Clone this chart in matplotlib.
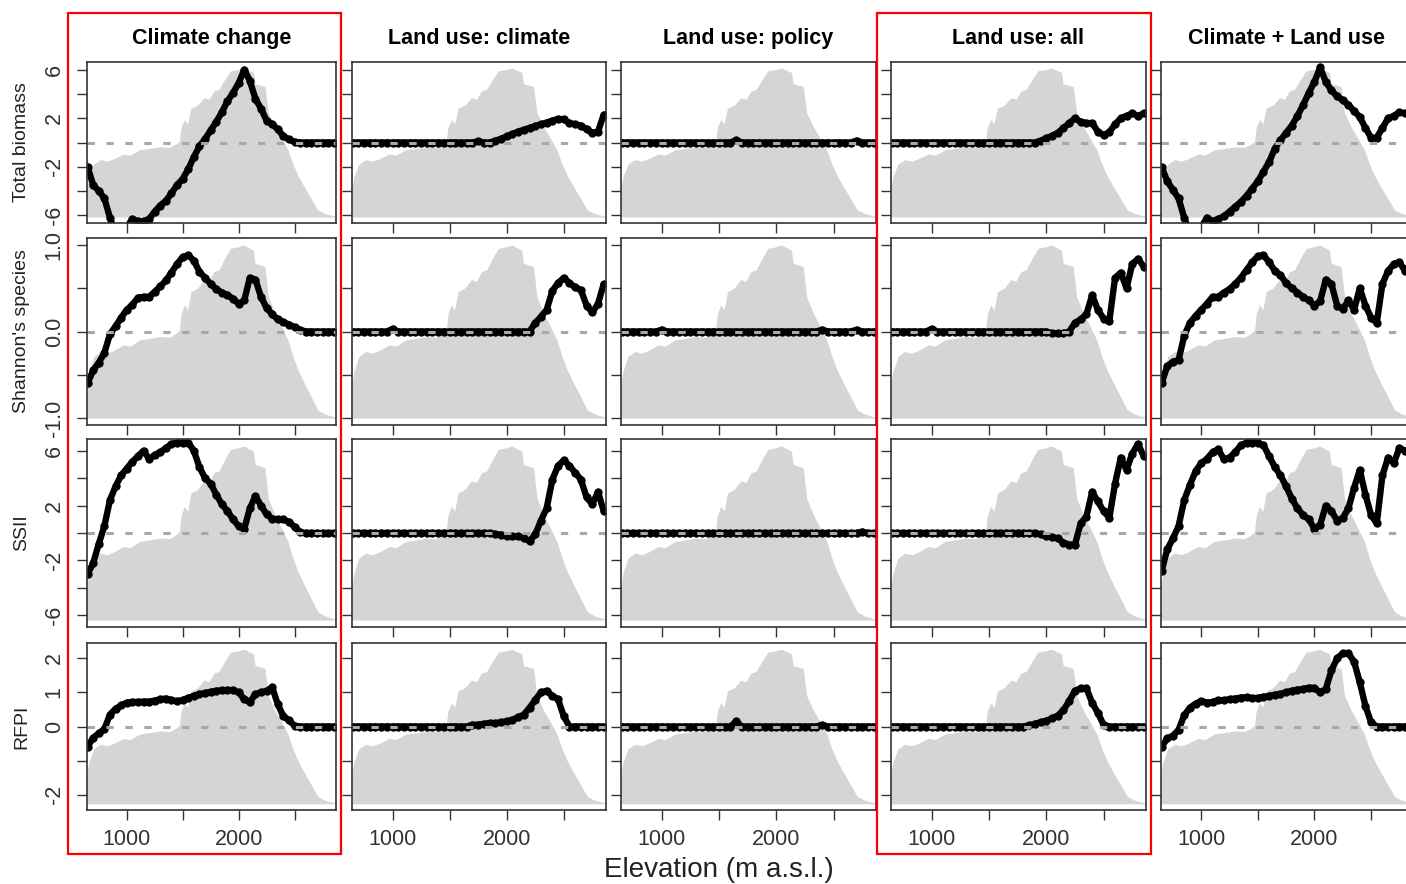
import numpy as np
import matplotlib
matplotlib.use("Agg")
import matplotlib.pyplot as plt
from matplotlib.patches import Rectangle

plt.rcParams['font.family'] = ['Liberation Sans', 'DejaVu Sans']

# elevation steps of the model output (m a.s.l.)
elev = np.arange(650, 2851, 50)

# share of area per elevation band (grey background), 0 = panel bottom, 1 = panel top
area_elev = [645, 662, 706, 765, 824, 882, 971, 1029, 1118, 1206, 1294, 1382, 1441, 1471,
             1485, 1515, 1544, 1574, 1632, 1691, 1735, 1779, 1824, 1882, 1926, 2000, 2044,
             2132, 2147, 2235, 2265, 2323, 2382, 2441, 2485, 2529, 2588, 2647, 2706, 2765,
             2823, 2868]
area_rel = [0.20, 0.27, 0.356, 0.385, 0.375, 0.39, 0.423, 0.415, 0.452, 0.46, 0.471, 0.467,
            0.49, 0.51, 0.60, 0.654, 0.625, 0.73, 0.75, 0.80, 0.79, 0.846, 0.856, 0.93, 0.98,
            0.99, 1.0, 0.97, 0.894, 0.875, 0.70, 0.606, 0.53, 0.45, 0.356, 0.28, 0.20, 0.125,
            0.048, 0.025, 0.013, 0.005]

col_titles = ["Climate change", "Land use: climate", "Land use: policy", "Land use: all",
              "Climate + Land use"]
row_labels = ["Total biomass", "Shannon's species", "SSII", "RFPI"]

# --- Total biomass
biomass_cc = [-2.0, -3.5, -4.0, -4.6, -6.2, -7.5, -7.5, -7.0, -6.3, -6.5, -6.5, -6.3, -5.7, -5.2,
              -4.8, -4.2, -3.5, -3.0, -2.2, -1.2, -0.3, 0.3, 1.0, 1.7, 2.5, 3.4, 4.1, 4.9, 6.0,
              5.1, 3.6, 2.8, 1.8, 1.5, 1.1, 0.5, 0.25, 0.05] + [0] * 7
biomass_luc = [0] * 22 + [0.1, 0, 0] + [0.15, 0.3, 0.5, 0.7, 0.9, 1.05, 1.2, 1.35, 1.5, 1.65,
                                          1.8, 1.95, 1.9, 1.6, 1.5, 1.4, 1.1, 0.8, 0.9, 2.3]
biomass_lup = [0] * 20 + [0.2] + [0] * 20 + [0.15, 0, 0, 0]
biomass_lua = [0] * 26 + [0.15, 0.35, 0.55, 0.8, 1.2, 1.6, 2.0, 1.7, 1.6, 1.6, 0.9, 0.6, 0.85,
                          1.5, 2.0, 2.2, 2.4, 2.2, 2.4]
biomass_cclu = [-2.0, -3.2, -3.9, -4.6, -6.2, -7.5, -7.5, -7.0, -6.2, -6.5, -6.3, -6.1, -5.7,
                -5.3, -4.9, -4.4, -3.8, -3.2, -2.4, -1.6, -0.5, 0.2, 0.8, 1.4, 2.2, 3.1, 4.1,
                5.0, 6.2, 5.0, 4.3, 3.8, 3.5, 3.1, 2.6, 2.1, 1.2, 0.4, 0.4, 1.2, 2.0, 2.2, 2.5,
                2.4, 2.3]

# --- Shannon's species
shannon_cc = [-0.6, -0.45, -0.36, -0.25, -0.03, 0.06, 0.16, 0.25, 0.31, 0.39, 0.4, 0.4, 0.46,
              0.52, 0.59, 0.68, 0.78, 0.86, 0.88, 0.82, 0.69, 0.62, 0.55, 0.49, 0.45, 0.42,
              0.38, 0.32, 0.36, 0.62, 0.6, 0.4, 0.27, 0.2, 0.14, 0.11, 0.08, 0.05, 0.02] + [0] * 6
shannon_luc = [0] * 7 + [0.03] + [0] * 24 + [0.1, 0.17, 0.25, 0.47, 0.56, 0.62, 0.56, 0.51,
                                            0.48, 0.3, 0.22, 0.32, 0.55]
shannon_lup = [0] * 7 + [0.02] + [0] * 27 + [0.02] + [0] * 5 + [0.02, 0, 0, 0]
shannon_lua = [0] * 7 + [0.03] + [0] * 20 + [-0.02, -0.02, -0.02, 0.0, 0.1, 0.14, 0.2, 0.42,
                                            0.25, 0.15, 0.12, 0.62, 0.68, 0.5, 0.78, 0.84, 0.75]
shannon_cclu = [-0.6, -0.4, -0.35, -0.33, -0.05, 0.1, 0.18, 0.25, 0.32, 0.4, 0.4, 0.45, 0.49,
                0.55, 0.62, 0.71, 0.8, 0.87, 0.88, 0.8, 0.7, 0.65, 0.56, 0.5, 0.45, 0.4, 0.36,
                0.3, 0.35, 0.6, 0.55, 0.3, 0.26, 0.36, 0.25, 0.5, 0.3, 0.16, 0.1, 0.55, 0.7,
                0.78, 0.8, 0.7, 0.8]

# --- SSII
ssii_cc = [-3.0, -2.2, -0.8, 0.5, 2.4, 3.4, 4.2, 4.7, 5.2, 5.6, 6.0, 5.4, 5.7, 5.9, 6.2, 6.5,
           6.6, 6.6, 6.6, 6.0, 4.8, 4.0, 3.6, 2.8, 2.1, 1.6, 1.0, 0.5, 0.3, 1.8, 2.7, 2.0,
           1.35, 1.05, 1.0, 1.0, 0.8, 0.45, 0.05] + [0] * 6
ssii_luc = [0] * 25 + [-0.08, -0.12, -0.2, -0.25, -0.25, -0.35, -0.6, -0.1, 0.9, 1.8, 3.9, 4.9,
                       5.3, 4.9, 4.4, 3.9, 2.6, 2.1, 3.0, 1.6]
ssii_lup = [0] * 42 + [0.1, 0, 0]
ssii_lua = [0] * 26 + [-0.1, -0.2, -0.3, -0.4, -0.7, -0.85, -0.85, 0.7, 1.2, 3.0, 2.3, 1.6,
                       1.1, 3.6, 5.5, 4.6, 5.8, 6.5, 5.6]
ssii_cclu = [-2.8, -1.2, -0.4, 0.5, 2.4, 3.5, 4.5, 5.1, 5.4, 5.9, 6.1, 5.4, 5.5, 5.9, 6.4, 6.6,
             6.6, 6.6, 6.4, 5.6, 4.8, 4.2, 3.4, 2.5, 1.8, 1.3, 1.0, 0.3, 0.6, 2.0, 1.6, 0.9,
             1.1, 1.8, 3.3, 4.6, 2.8, 1.3, 0.7, 4.2, 5.5, 5.1, 6.2, 6.0, 5.8]

# --- RFPI
rfpi_cc = [-0.6, -0.33, -0.2, -0.08, 0.35, 0.52, 0.62, 0.7, 0.72, 0.72, 0.73, 0.73, 0.76, 0.8,
           0.82, 0.78, 0.74, 0.78, 0.84, 0.9, 0.95, 0.98, 1.02, 1.05, 1.06, 1.07, 1.07, 1.0,
           0.8, 0.72, 0.95, 1.0, 1.05, 1.15, 0.65, 0.3, 0.18, 0.02] + [0] * 7
rfpi_luc = [0] * 21 + [0.05, 0.05, 0.08, 0.1, 0.1, 0.12, 0.15, 0.2, 0.27, 0.35, 0.55, 0.78, 1.0,
                       1.05, 0.9, 0.8, 0.3, 0.0] + [0] * 6
rfpi_lup = [0] * 20 + [0.15] + [0] * 14 + [0.05] + [0] * 9
rfpi_lua = [0] * 24 + [0.03, 0.08, 0.12, 0.17, 0.24, 0.32, 0.48, 0.75, 1.05, 1.12, 1.12, 0.7,
                       0.4, 0.05] + [0] * 7
rfpi_cclu = [-0.6, -0.35, -0.27, -0.1, 0.33, 0.55, 0.67, 0.75, 0.7, 0.72, 0.77, 0.77, 0.8, 0.82,
             0.85, 0.86, 0.83, 0.84, 0.87, 0.9, 0.93, 0.96, 1.0, 1.05, 1.08, 1.1, 1.14, 1.13,
             1.0, 1.1, 1.65, 2.0, 2.15, 2.15, 1.9, 1.3, 0.6, 0.12] + [0] * 7

panels = [[biomass_cc, biomass_luc, biomass_lup, biomass_lua, biomass_cclu],
          [shannon_cc, shannon_luc, shannon_lup, shannon_lua, shannon_cclu],
          [ssii_cc, ssii_luc, ssii_lup, ssii_lua, ssii_cclu],
          [rfpi_cc, rfpi_luc, rfpi_lup, rfpi_lua, rfpi_cclu]]

# data range per row (grey area spans it)
row_lo = [-6.15, -1.0, -6.35, -2.27]
row_hi = [6.15, 1.0, 6.35, 2.27]
row_ticks = [[6, 4, 2, 0, -2, -4, -6], [1.0, 0.5, 0.0, -0.5, -1.0],
             [6, 4, 2, 0, -2, -4, -6], [2, 1, 0, -1, -2]]
row_ticklabels = [["6", "", "2", "", "-2", "", "-6"], ["1.0", "", "0.0", "", "-1.0"],
                  ["6", "", "2", "", "-2", "", "-6"], ["2", "1", "0", "", "-2"]]
xticks = [1000, 1500, 2000, 2500]
xticklabels = ["1000", "", "2000", ""]

W, H = 1406, 884
col_l = [87, 352, 621, 891, 1161]
col_r = [336, 606, 876, 1146, 1413]
row_t = [62, 238, 439, 643]
row_b = [223, 425, 627, 810]

fig = plt.figure(figsize=(W / 100, H / 100), dpi=100)

for i in range(4):
    lo, hi = row_lo[i], row_hi[i]
    pad = 0.04 * (hi - lo)
    for j in range(5):
        ax = fig.add_axes([col_l[j] / W, 1 - row_b[i] / H,
                           (col_r[j] - col_l[j]) / W, (row_b[i] - row_t[i]) / H])
        ax.fill_between(area_elev, lo, lo + np.array(area_rel) * (hi - lo),
                        color='#d5d5d5', lw=0, zorder=1)
        ax.plot(elev, panels[i][j], '-', color='black', lw=4.6,
                solid_capstyle='round', solid_joinstyle='round', zorder=2)
        ax.plot(elev, panels[i][j], 'o', color='black', ms=6, mew=0, zorder=3)
        ax.axhline(0, color='#a8a8a8', lw=2.2, dashes=(2.4, 3.8), zorder=4)
        ax.set_xlim(645, 2870)
        ax.set_ylim(lo - pad, hi + pad)
        ax.set_xticks(xticks)
        ax.set_yticks(row_ticks[i])
        if i == 3:
            ax.set_xticklabels(xticklabels)
        else:
            ax.set_xticklabels([])
        if j == 0:
            ax.set_yticklabels(row_ticklabels[i], rotation=90, va='center', ha='right')
        else:
            ax.set_yticklabels([])
        ax.tick_params(direction='out', length=7, width=1, colors='#333333', labelsize=15.5)
        ax.tick_params(axis='y', pad=9)
        ax.tick_params(axis='x', pad=7)
        for s in ax.spines.values():
            s.set_color('#333333')
            s.set_linewidth(1.2)
            s.set_zorder(5)
        if i == 0:
            ax.set_title(col_titles[j], fontsize=15.5, fontweight='bold', pad=13)

for i in range(4):
    yc = (row_t[i] + row_b[i]) / 2
    fig.text(22 / W, 1 - yc / H, row_labels[i], rotation=90, ha='center', va='center',
             fontsize=14, color='#222222')

fig.text(719 / W, 1 - 870 / H, "Elevation (m a.s.l.)", ha='center', va='center',
         fontsize=20, color='#222222')

# red frames around the highlighted columns
for x0, x1 in [(68, 341), (877, 1151)]:
    fig.add_artist(Rectangle((x0 / W, 1 - 854 / H), (x1 - x0) / W, (854 - 13) / H,
                             transform=fig.transFigure, fill=False, ec='red', lw=1.6))

fig.savefig('out.png', dpi=100)
